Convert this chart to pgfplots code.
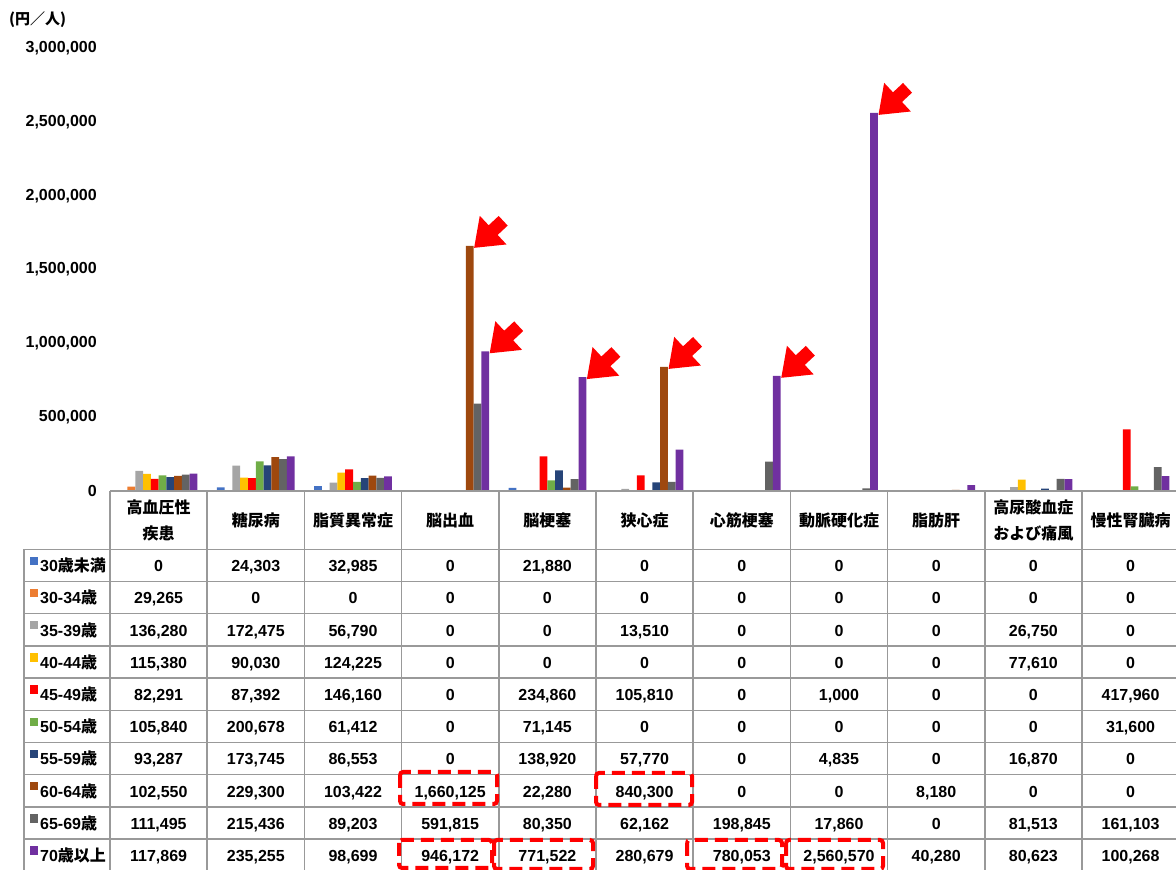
\documentclass[border=0pt]{standalone}
\usepackage{fontspec}
\usepackage{pgfplots}
\usepackage{pgfplotstable}
\pgfplotsset{compat=1.18}
\setmainfont{Liberation Sans}
\newfontfamily\cjk{Noto Sans CJK JP}
\definecolor{c0}{HTML}{4472C4}
\definecolor{c1}{HTML}{ED7D31}
\definecolor{c2}{HTML}{A5A5A5}
\definecolor{c3}{HTML}{FFC000}
\definecolor{c4}{HTML}{FF0000}
\definecolor{c5}{HTML}{70AD47}
\definecolor{c6}{HTML}{264478}
\definecolor{c7}{HTML}{9E480E}
\definecolor{c8}{HTML}{636363}
\definecolor{c9}{HTML}{7030A0}
\definecolor{gridc}{HTML}{999999}

\pgfplotstableread{
x s0 s1 s2 s3 s4 s5 s6 s7 s8 s9
0 0 29265 136280 115380 82291 105840 93287 102550 111495 117869
1 24303 0 172475 90030 87392 200678 173745 229300 215436 235255
2 32985 0 56790 124225 146160 61412 86553 103422 89203 98699
3 0 0 0 0 0 0 0 1660125 591815 946172
4 21880 0 0 0 234860 71145 138920 22280 80350 771522
5 0 0 13510 0 105810 0 57770 840300 62162 280679
6 0 0 0 0 0 0 0 0 198845 780053
7 0 0 0 0 1000 0 4835 0 17860 2560570
8 0 0 0 0 0 0 0 8180 0 40280
9 0 0 26750 77610 0 0 16870 0 81513 80623
10 0 0 0 0 417960 31600 0 0 161103 100268
}\data

\newcommand\tf{\fontsize{16}{19}\selectfont\bfseries}
\newcommand\tabrow[4]{%
  \fill[#2] (30,{870-(549.3+32.2*#1+7.4)}) rectangle ++(8,-8.4);
  \node[anchor=base west,inner sep=0,font=\tf] at (40,{870-(549.3+32.2*#1+22.4)}) {#3};
  \foreach \v [count=\c from 0] in {#4}
    \node[anchor=base,inner sep=0,font=\tf] at ({110+97.2*(\c+0.5)},{870-(549.3+32.2*#1+22.4)}) {\v};
}
\newcommand\arrowat[1]{%
  \fill[red, shift={(#1)}, xshift=4.5pt, yshift=-2pt, rotate=223]
    (0,0) -- (-26,19.6) -- (-26,6.6) -- (-39.7,6.6) -- (-39.7,-6.6) -- (-26,-6.6) -- (-26,-19.6) -- cycle;
}

\begin{document}
\begin{tikzpicture}[x=1pt,y=1pt]
\useasboundingbox (0,0) rectangle (1176,870);
\begin{axis}[
  at={(110pt,379pt)}, anchor=south west, scale only axis,
  width=1069.2pt, height=443pt,
  xmin=-0.5, xmax=10.5, ymin=0, ymax=3000000,
  axis line style={draw=none}, xtick=\empty,
  ytick={0,500000,1000000,1500000,2000000,2500000,3000000},
  yticklabels={0,{500,000},{1,000,000},{1,500,000},{2,000,000},{2,500,000},{3,000,000}},
  scaled y ticks=false, major tick length=0pt,
  yticklabel style={font=\tf, inner sep=0pt, xshift=-13pt, anchor=east},
  clip=false,
]
\addplot[ybar, bar width=0.08, bar shift=-0.36, fill=c0, draw=none] table[x=x,y=s0]{\data};
\addplot[ybar, bar width=0.08, bar shift=-0.28, fill=c1, draw=none] table[x=x,y=s1]{\data};
\addplot[ybar, bar width=0.08, bar shift=-0.20, fill=c2, draw=none] table[x=x,y=s2]{\data};
\addplot[ybar, bar width=0.08, bar shift=-0.12, fill=c3, draw=none] table[x=x,y=s3]{\data};
\addplot[ybar, bar width=0.08, bar shift=-0.04, fill=c4, draw=none] table[x=x,y=s4]{\data};
\addplot[ybar, bar width=0.08, bar shift=0.04, fill=c5, draw=none] table[x=x,y=s5]{\data};
\addplot[ybar, bar width=0.08, bar shift=0.12, fill=c6, draw=none] table[x=x,y=s6]{\data};
\addplot[ybar, bar width=0.08, bar shift=0.20, fill=c7, draw=none] table[x=x,y=s7]{\data};
\addplot[ybar, bar width=0.08, bar shift=0.28, fill=c8, draw=none] table[x=x,y=s8]{\data};
\addplot[ybar, bar width=0.08, bar shift=0.36, fill=c9, draw=none] table[x=x,y=s9]{\data};
\coordinate (a1) at (axis cs:3.20,1660125);
\coordinate (a2) at (axis cs:3.36,946172);
\coordinate (a3) at (axis cs:4.36,771522);
\coordinate (a4) at (axis cs:5.20,840300);
\coordinate (a5) at (axis cs:6.36,780053);
\coordinate (a6) at (axis cs:7.36,2560570);
\end{axis}
% arrows
\arrowat{a1}\arrowat{a2}\arrowat{a3}\arrowat{a4}\arrowat{a5}\arrowat{a6}
% unit label
\node[anchor=west,inner sep=0,font=\cjk\fontsize{15}{18}\selectfont\bfseries] at (9,850) {(円／人)};
% table grid
\begin{scope}[gridc, line width=1.5pt]
\draw (110,379) -- (1176,379);
\foreach \k in {0,...,9} \draw (24,{870-(549.3+32.2*\k)}) -- (1176,{870-(549.3+32.2*\k)});
\draw (24,{870-549.3}) -- (24,0);
\foreach \c in {0,...,10} \draw ({110+97.2*\c},379) -- ({110+97.2*\c},0);
\end{scope}
% header
\foreach \t [count=\c from 0] in {{高血圧性\\疾患},糖尿病,脂質異常症,脳出血,脳梗塞,狭心症,心筋梗塞,動脈硬化症,脂肪肝,{高尿酸血症\\および痛風},慢性腎臓病}
  \node[align=center,inner sep=0,font=\cjk\fontsize{16}{26}\selectfont\bfseries] at ({110+97.2*(\c+0.5)},{870-520}) {\t};
% rows
\tabrow{0}{c0}{30{\cjk 歳未満}}{{0},{24,303},{32,985},0,{21,880},0,0,0,0,0,0}
\tabrow{1}{c1}{30-34{\cjk 歳}}{{29,265},0,0,0,0,0,0,0,0,0,0}
\tabrow{2}{c2}{35-39{\cjk 歳}}{{136,280},{172,475},{56,790},0,0,{13,510},0,0,0,{26,750},0}
\tabrow{3}{c3}{40-44{\cjk 歳}}{{115,380},{90,030},{124,225},0,0,0,0,0,0,{77,610},0}
\tabrow{4}{c4}{45-49{\cjk 歳}}{{82,291},{87,392},{146,160},0,{234,860},{105,810},0,{1,000},0,0,{417,960}}
\tabrow{5}{c5}{50-54{\cjk 歳}}{{105,840},{200,678},{61,412},0,{71,145},0,0,0,0,0,{31,600}}
\tabrow{6}{c6}{55-59{\cjk 歳}}{{93,287},{173,745},{86,553},0,{138,920},{57,770},0,{4,835},0,{16,870},0}
\tabrow{7}{c7}{60-64{\cjk 歳}}{{102,550},{229,300},{103,422},{1,660,125},{22,280},{840,300},0,0,{8,180},0,0}
\tabrow{8}{c8}{65-69{\cjk 歳}}{{111,495},{215,436},{89,203},{591,815},{80,350},{62,162},{198,845},{17,860},0,{81,513},{161,103}}
\tabrow{9}{c9}{70{\cjk 歳以上}}{{117,869},{235,255},{98,699},{946,172},{771,522},{280,679},{780,053},{2,560,570},{40,280},{80,623},{100,268}}
% highlight boxes
\begin{scope}[red, line width=4pt, dash pattern=on 13pt off 7pt, rounded corners=3pt]
\draw (400,{870-772}) rectangle (497,{870-804});
\draw (596,{870-773}) rectangle (692,{870-805});
\draw (399,{870-840}) rectangle (492,{870-868});
\draw (494,{870-840}) rectangle (593,{870-869});
\draw (687,{870-840}) rectangle (782,{870-869});
\draw (786,{870-840}) rectangle (883,{870-869});
\end{scope}
\end{tikzpicture}
\end{document}
